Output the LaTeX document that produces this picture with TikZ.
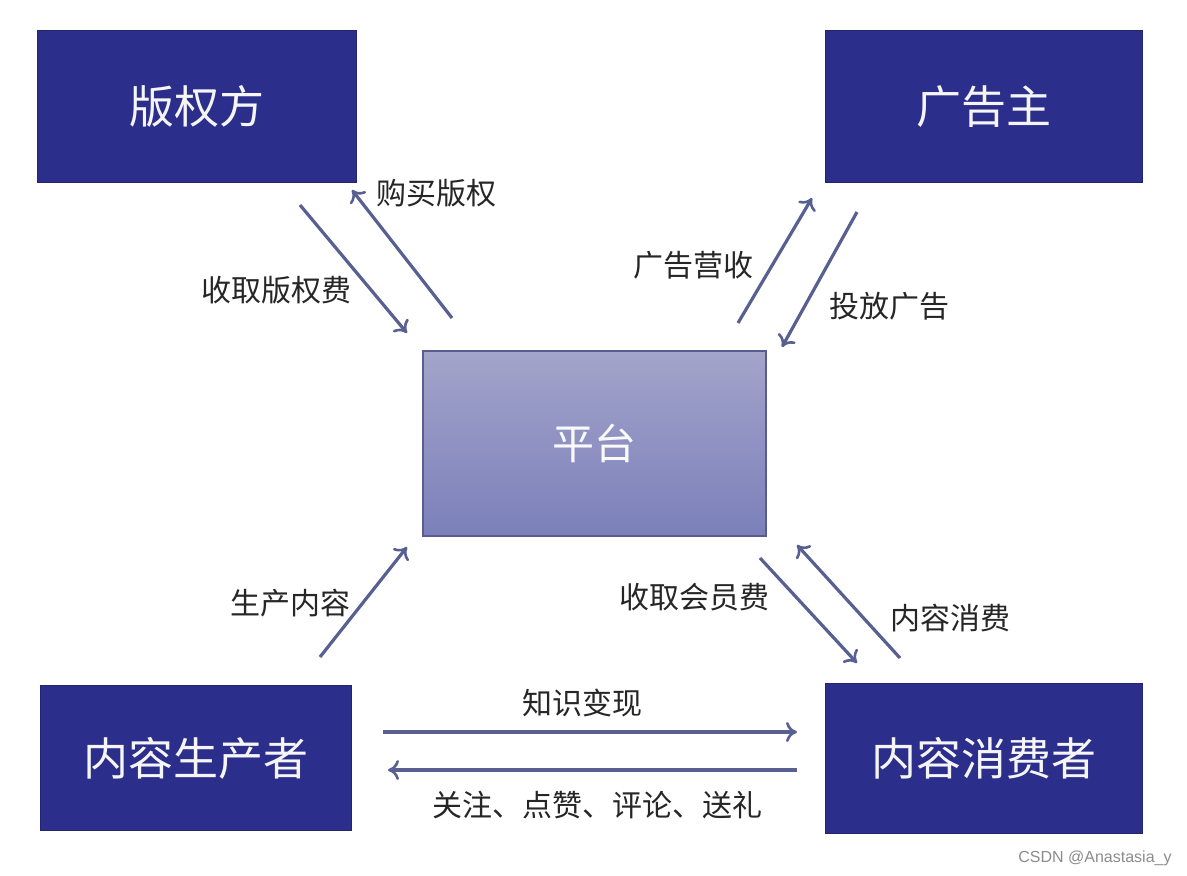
\documentclass[tikz,border=0pt]{standalone}
\usepackage{fontspec}
\newfontfamily\cjk{Noto Sans CJK SC}
\usetikzlibrary{arrows.meta}
\definecolor{navy}{RGB}{44,46,140}
\definecolor{arr}{RGB}{88,96,145}
\definecolor{ptop}{RGB}{162,164,202}
\definecolor{pbot}{RGB}{124,128,186}
\definecolor{pborder}{RGB}{90,92,145}
\tikzset{
  x=1pt,y=-1pt,
  bigbox/.style={draw=navy!80!black,line width=1pt,fill=navy,text=white!92!gray,font=\cjk\fontsize{45}{50}\selectfont,anchor=north west,inner sep=0pt},
  lbl/.style={font=\cjk\fontsize{30}{34}\selectfont,text=black!85,inner sep=0pt},
  conn/.style={draw=arr,line width=3.2pt,-{To[length=11pt,width=20pt,line width=2.6pt]}},
}
\begin{document}
\begin{tikzpicture}
\useasboundingbox[fill=white] (0,0) rectangle (1187,876);
\node[bigbox,minimum width=319pt,minimum height=152pt] (bq) at (37,30) {版权方};
\node[bigbox,minimum width=317pt,minimum height=152pt] (gg) at (825,30) {广告主};
\node[bigbox,minimum width=311pt,minimum height=145pt] (sc) at (40,685) {内容生产者};
\node[bigbox,minimum width=317pt,minimum height=150pt] (xf) at (825,683) {内容消费者};
\node[draw=pborder,line width=1.8pt,top color=ptop,bottom color=pbot,anchor=north west,minimum width=343pt,minimum height=185pt,inner sep=0pt,text=white!95!gray,font=\cjk\fontsize{42}{48}\selectfont] (pt) at (422,350) {平台};
% connector endpoints
\coordinate (a1) at (300,205); \coordinate (a2) at (407,333);
\coordinate (b1) at (452,318); \coordinate (b2) at (352,190);
\coordinate (c1) at (738,323); \coordinate (c2) at (812,198);
\coordinate (d1) at (857,212); \coordinate (d2) at (782,347);
\coordinate (e1) at (320,657); \coordinate (e2) at (407,547);
\coordinate (f1) at (760,558); \coordinate (f2) at (857,663);
\coordinate (g1) at (900,658); \coordinate (g2) at (797,545);
\coordinate (h1) at (383,732); \coordinate (h2) at (797,732);
\coordinate (i1) at (797,770); \coordinate (i2) at (388,770);
\draw[conn] (a1) -- (a2);
\draw[conn] (b1) -- (b2);
\draw[conn] (c1) -- (c2);
\draw[conn] (d1) -- (d2);
\draw[conn] (e1) -- (e2);
\draw[conn] (f1) -- (f2);
\draw[conn] (g1) -- (g2);
\draw[conn] (h1) -- (h2);
\draw[conn] (i1) -- (i2);
\node[lbl] (l1) at (436,193) {购买版权};
\node[lbl] (l2) at (276,290) {收取版权费};
\node[lbl] (l3) at (693,265) {广告营收};
\node[lbl] (l4) at (889,306) {投放广告};
\node[lbl] (l5) at (290,603) {生产内容};
\node[lbl] (l6) at (694,597) {收取会员费};
\node[lbl] (l7) at (950,618) {内容消费};
\node[lbl] (l8) at (582,703) {知识变现};
\node[lbl] (l9) at (597,805) {关注、点赞、评论、送礼};
\node[font=\fontspec{Liberation Sans}\fontsize{16}{18}\selectfont,text=black!45,inner sep=0pt] (wm) at (1095,858) {CSDN @Anastasia\_y};
\end{tikzpicture}
\end{document}
